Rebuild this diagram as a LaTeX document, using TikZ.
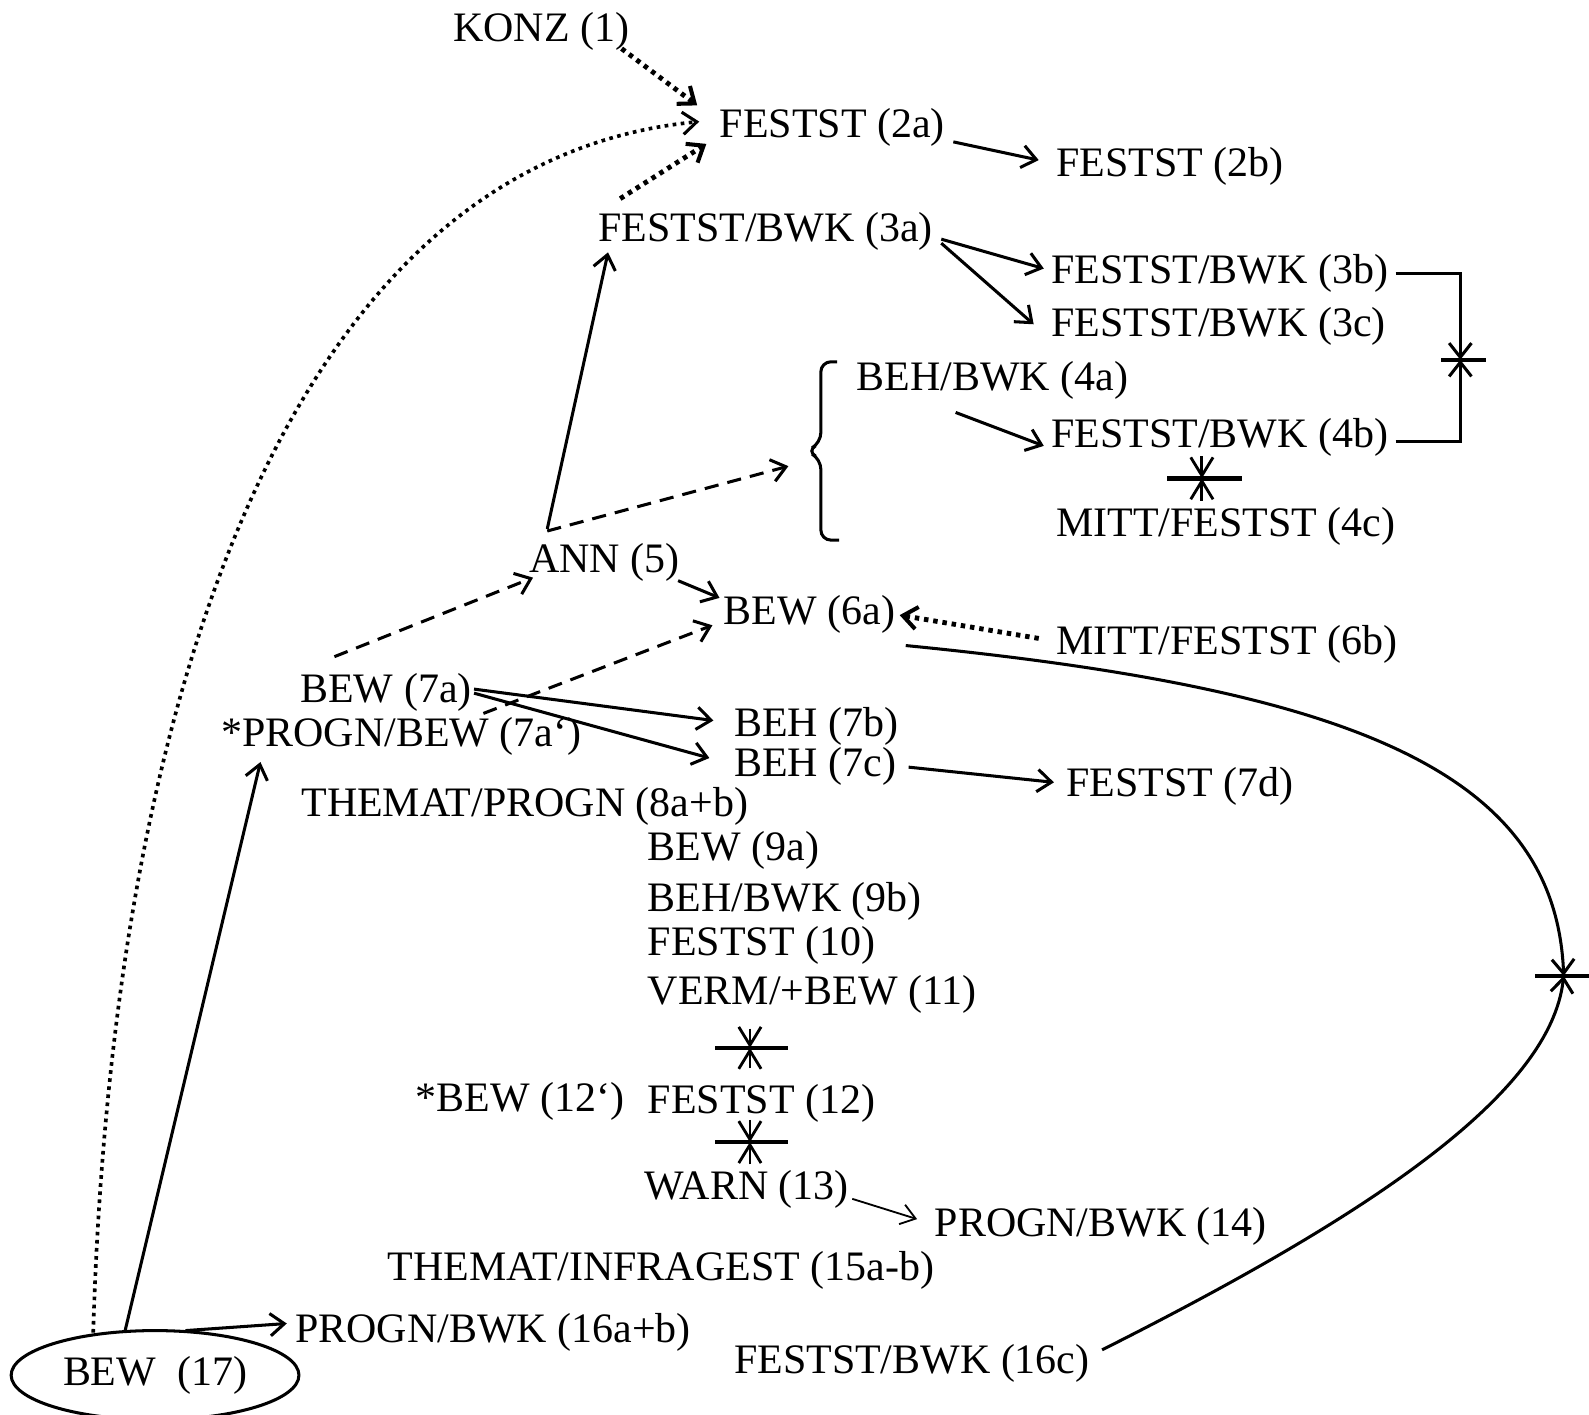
\documentclass[tikz,border=0pt]{standalone}
\usepackage{fontspec}
\setmainfont{Liberation Serif}
\usetikzlibrary{arrows.meta,shapes.geometric}
\begin{document}
\begin{tikzpicture}[x=0.5pt,y=-0.5pt,
  lbl/.style={anchor=base west,inner sep=0pt,font=\fontsize{20.7}{24}\selectfont},
  conn/.style={line width=1.5pt,-{Straight Barb[length=7pt,width=11pt]}},
  thin conn/.style={line width=0.9pt,-{Straight Barb[length=7pt,width=10pt]}},
  dashconn/.style={conn,dash pattern=on 7pt off 4.5pt},
  dotconn/.style={line width=2.4pt,dash pattern=on 2.2pt off 2.4pt,
    -{Straight Barb[length=7pt,width=11pt,line width=2pt]}},
  dotcurve/.style={line width=1.8pt,dash pattern=on 1.8pt off 2.2pt,
    -{Straight Barb[length=7pt,width=11pt,line width=1.5pt]}},
  plain/.style={line width=1.5pt},
  bar/.style={line width=2.2pt},
  blocker/.style={line width=1.4pt,-{Straight Barb[length=9pt,width=11pt]}}
]
\useasboundingbox (0,0) rectangle (1568,1396);

% labels
\node[lbl] (n1)   at (447,41)   {KONZ (1)};
\node[lbl] (n2a)  at (710,136)  {FESTST (2a)};
\node[lbl] (n2b)  at (1042,174) {FESTST (2b)};
\node[lbl] (n3a)  at (590,238)  {FESTST/BWK (3a)};
\node[lbl] (n3b)  at (1037,280) {FESTST/BWK (3b)};
\node[lbl] (n3c)  at (1037,332) {FESTST/BWK (3c)};
\node[lbl] (n4a)  at (845,385)  {BEH/BWK (4a)};
\node[lbl] (n4b)  at (1037,442) {FESTST/BWK (4b)};
\node[lbl] (n4c)  at (1042,529) {MITT/FESTST (4c)};
\node[lbl] (n5)   at (522,565)  {ANN (5)};
\node[lbl] (n6a)  at (714,616)  {BEW (6a)};
\node[lbl] (n6b)  at (1042,646) {MITT/FESTST (6b)};
\node[lbl] (n7a)  at (296,693)  {BEW (7a)};
\node[lbl] (n7ap) at (218,737)  {*PROGN/BEW (7a‘)};
\node[lbl] (n7b)  at (724,727)  {BEH (7b)};
\node[lbl] (n7c)  at (724,766)  {BEH (7c)};
\node[lbl] (n7d)  at (1052,786) {FESTST (7d)};
\node[lbl] (n8)   at (297,806)  {THEMAT/PROGN (8a+b)};
\node[lbl] (n9a)  at (639,849)  {BEW (9a)};
\node[lbl] (n9b)  at (639,899)  {BEH/BWK (9b)};
\node[lbl] (n10)  at (639,943)  {FESTST (10)};
\node[lbl] (n11)  at (639,991)  {VERM/+BEW (11)};
\node[lbl] (n12p) at (410,1097) {*BEW (12‘)};
\node[lbl] (n12)  at (639,1099) {FESTST (12)};
\node[lbl] (n13)  at (636,1184) {WARN (13)};
\node[lbl] (n14)  at (922,1220) {PROGN/BWK (14)};
\node[lbl] (n15)  at (382,1264) {THEMAT/INFRAGEST (15a-b)};
\node[lbl] (n16ab) at (291,1325) {PROGN/BWK (16a+b)};
\node[lbl] (n16c) at (724,1355) {FESTST/BWK (16c)};
\node[draw,ellipse,line width=1.5pt,minimum width=142pt,minimum height=44pt,inner sep=0pt,
      font=\fontsize{20.7}{24}\selectfont] (n17) at (153,1357) {BEW\ \ (17)};

% blocking points
\coordinate (x1) at (1441,355);
\coordinate (x2) at (1186,472);
\coordinate (x3) at (1543,963);
\coordinate (x4) at (740,1034);
\coordinate (x5) at (740,1127);
\coordinate (bracetip) at (795,445);

% brace grouping 4a-4c
\draw[plain,rounded corners=5pt] (826,357) -- (810,357) -- (810,437) -- (796,445)
  -- (810,453) -- (810,533) -- (828,533);

% dotted connectors
\draw[dotconn] ([shift={(-8,7)}]n1.base east) -- ([shift={(-22,-32)}]n2a.base west);
\draw[dotconn] ([shift={(22,-42)}]n3a.base west) -- ([shift={(-13,6)}]n2a.base west);
\draw[dotconn] ([shift={(-17,-16)}]n6b.base west) -- ([shift={(4,-9)}]n6a.base east);
\draw[dotcurve] ([shift={(-61,-42)}]n17.center) .. controls (110,700) and (280,160)
  .. ([shift={(-20,-16)}]n2a.base west);

% solid connectors
\draw[conn] ([shift={(8,4)}]n2a.base east) -- ([shift={(-17,-16)}]n2b.base west);
\draw[conn] ([shift={(8,-2)}]n3a.base east) -- ([shift={(-7,-15)}]n3b.base west);
\draw[conn] ([shift={(8,2)}]n3a.base east) -- ([shift={(-17,-12)}]n3c.base west);
\draw[conn] ([shift={(98,22)}]n4a.base west) -- ([shift={(-7,-2)}]n4b.base west);
\draw[conn] ([shift={(18,-43)}]n5.base west) -- ([shift={(10,11)}]n3a.base west);
\draw[conn] ([shift={(-2,8)}]n5.base east) -- ([shift={(-4,-26)}]n6a.base west);
\draw[conn] ([shift={(2,-13)}]n7a.base east) -- ([shift={(-20,-16)}]n7b.base west);
\draw[conn] ([shift={(2,-9)}]n7a.base east) -- ([shift={(-24,-18)}]n7c.base west);
\draw[conn] ([shift={(12,-9)}]n7c.base east) -- ([shift={(-12,-14)}]n7d.base west);
\draw[conn] ([shift={(-30,-42)}]n17.center) -- ([shift={(39,15)}]n7ap.base west);
\draw[conn] ([shift={(30,-44)}]n17.center) -- ([shift={(-8,-19)}]n16ab.base west);
\draw[thin conn] ([shift={(3,-1)}]n13.base east) -- ([shift={(-17,-17)}]n14.base west);

% dashed connectors
\draw[dashconn] ([shift={(18,-41)}]n5.base west) -- ([shift={(-17,15)}]bracetip);
\draw[dashconn] ([shift={(34,-45)}]n7a.base west) -- ([shift={(4,5)}]n5.base west);
\draw[dashconn] ([shift={(259,-33)}]n7ap.base west) -- ([shift={(-11,1)}]n6a.base west);

% blocked relations
\draw[conn] ([shift={(7,-10)}]n3b.base east) -| (x1);
\draw[conn] ([shift={(7,-6)}]n4b.base east) -| (x1);
\draw[bar] ([shift={(-19,0)}]x1) -- ([shift={(25,0)}]x1);

\draw[blocker] ([shift={(149,8)}]n4b.base west) -- (x2);
\draw[blocker] ([shift={(144,-35)}]n4c.base west) -- (x2);
\draw[bar] ([shift={(-34,0)}]x2) -- ([shift={(40,0)}]x2);

\draw[conn] ([shift={(10,21)}]n6a.base east) .. controls (1330,680) and (1535,760) .. (x3);
\draw[conn] ([shift={(12,-23)}]n16c.base east) .. controls (1350,1200) and (1530,1080) .. (x3);
\draw[bar] ([shift={(-28,0)}]x3) -- ([shift={(25,0)}]x3);

\draw[blocker] ([shift={(101,24)}]n11.base west) -- (x4);
\draw[blocker] ([shift={(101,-45)}]n12.base west) -- (x4);
\draw[bar] ([shift={(-34,0)}]x4) -- ([shift={(38,0)}]x4);

\draw[blocker] ([shift={(101,6)}]n12.base west) -- (x5);
\draw[blocker] ([shift={(104,-35)}]n13.base west) -- (x5);
\draw[bar] ([shift={(-34,0)}]x5) -- ([shift={(38,0)}]x5);
\end{tikzpicture}
\end{document}
